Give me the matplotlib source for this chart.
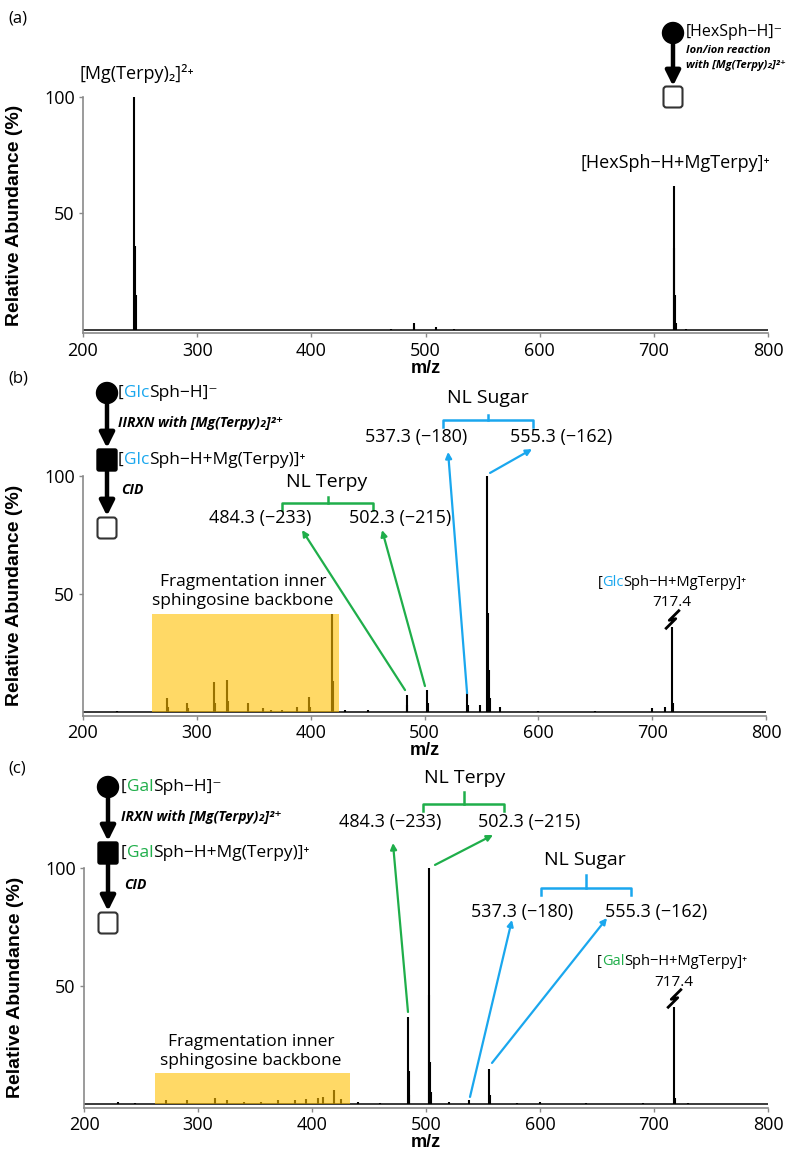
import matplotlib
matplotlib.use("Agg")
import matplotlib.pyplot as plt
from matplotlib.patches import Circle, Rectangle, FancyBboxPatch
from matplotlib.path import Path

FONT = ["Open Sans", "DejaVu Sans"]
LFONT = ["Liberation Sans", "DejaVu Sans"]
BLUE = "#1aa7ee"
GREEN = "#1fae4a"
ORANGE = "#ffc000"

# ---- spectra (m/z, relative abundance %) ----
mz_a = [245.0, 245.6, 246.2, 470.0, 489.5, 490.3, 509.5, 525.0,
        717.4, 718.0, 718.6, 719.5, 728.0]
int_a = [100, 36, 15, 0.6, 3.0, 1.5, 1.2, 0.5,
         62, 35, 15, 3, 0.6]

mz_b = [230.0, 273.8, 274.5, 291.4, 292.0, 315.0, 315.6, 326.5, 327.1, 345.0,
        358.0, 365.0, 375.0, 388.0, 398.5, 399.1, 418.7, 419.3, 430.0, 450.0,
        484.3, 484.9, 502.3, 502.9, 537.3, 537.9, 548.5, 555.3, 555.9, 556.5,
        557.2, 566.0, 600.0, 650.0, 700.0, 711.0, 717.4, 718.0]
int_b = [0.5, 6.0, 2.0, 4.0, 1.5, 12.7, 4.0, 13.5, 4.5, 4.0,
         1.5, 1.0, 1.0, 2.0, 6.5, 2.0, 41.5, 13.0, 0.8, 0.8,
         7.0, 3.0, 9.5, 4.0, 8.0, 3.0, 3.0, 100, 42, 18,
         6.0, 2.0, 0.5, 0.4, 1.5, 2.0, 36, 4.0]

mz_c = [230.0, 245.0, 272.0, 290.0, 315.0, 325.0, 340.0, 355.0, 370.0, 385.0,
        395.0, 405.0, 410.0, 419.0, 425.0, 440.0, 460.0, 484.3, 484.9, 485.5,
        502.3, 502.9, 503.5, 504.2, 520.0, 537.3, 555.3, 555.9, 580.0, 600.0,
        640.0, 690.0, 717.4, 718.0, 730.0]
int_c = [0.8, 0.6, 1.5, 1.5, 2.5, 1.5, 1.0, 1.0, 1.5, 1.5,
         2.0, 2.5, 3.0, 6.0, 2.0, 0.8, 0.6, 37, 14, 4,
         100, 46, 18, 5, 0.8, 1.5, 15, 4, 0.5, 0.8,
         0.6, 0.6, 41, 2.5, 0.5]

frag_b = (260.6, 425.0, 41.5)
frag_c = (262.0, 433.7, 13.0)

xticks = [200, 300, 400, 500, 600, 700, 800]
yticks = [50, 100]

W, H = 799, 1151
fig = plt.figure(figsize=(W / 100, H / 100), dpi=100)


def make_axes(x0, x1, y0, y100, ymin=-1.5):
    per = (y0 - y100) / 100.0
    bottom = y0 - ymin * per
    return fig.add_axes([x0 / W, 1 - bottom / H, (x1 - x0) / W, (bottom - y100) / H])


def style(ax):
    ax.set_xlim(200, 800)
    ax.set_ylim(-1.5, 100)
    for s in ("top", "right"):
        ax.spines[s].set_visible(False)
    for s in ("left", "bottom"):
        ax.spines[s].set_color("#8a8a8a")
        ax.spines[s].set_linewidth(1.2)
    ax.set_xticks(xticks)
    ax.set_yticks(yticks)
    ax.tick_params(direction="out", length=3, width=1, color="#8a8a8a", pad=3)
    for lab in ax.get_xticklabels() + ax.get_yticklabels():
        lab.set_family(FONT)
        lab.set_fontsize(13)
    ax.set_xlabel("m/z", family=LFONT, fontweight="bold", fontsize=13, labelpad=0)
    ax.set_ylabel("Relative Abundance (%)", family=LFONT, fontweight="bold", fontsize=14)
    ax.yaxis.set_label_coords(-0.088, 0.5)
    ax.patch.set_alpha(0)


def spectrum(ax, mz, inten):
    ax.hlines(0, 200, 800, color="#2a2a2a", lw=1.3)
    ax.vlines(mz, 0, inten, color="black", lw=1.5)


def bracket(ax, xl, xr, y, ytop, yend, color):
    xm = (xl + xr) / 2
    ax.plot([xl, xl, xr, xr], [yend, y, y, yend], color=color, lw=1.8, clip_on=False,
            solid_joinstyle="round")
    ax.plot([xm, xm], [y, ytop], color=color, lw=1.8, clip_on=False)


def arrow(ax, tail, head, color):
    ax.annotate("", xy=head, xytext=tail, annotation_clip=False,
                arrowprops=dict(arrowstyle="-|>", color=color, lw=1.6,
                                mutation_scale=9, shrinkA=0, shrinkB=0))


def label(ax, x, y, s, size=13, **kw):
    ax.text(x, y, s, ha="center", va="center", fontsize=size, family=FONT, **kw)


def rich(ax, x, y, parts, size, weight="normal", style_="normal"):
    t = None
    for s, c in parts:
        if t is None:
            t = ax.text(x, y, s, color=c, fontsize=size, fontweight=weight,
                        fontstyle=style_, family=FONT, ha="left", va="center")
        else:
            t = ax.annotate(s, xy=(1, 0), xycoords=t, color=c, fontsize=size,
                            fontweight=weight, fontstyle=style_, family=FONT,
                            ha="left", va="bottom")
    return t


# lightning-style axis break drawn above the off-scale precursor peak
bolt = Path([(-0.45, -0.6), (0.2, 0.05), (-0.2, -0.05), (0.45, 0.6)])


def breakmark(ax, x, y):
    ax.plot([x], [y], marker=bolt, ms=14, mfc="none", mec="black", mew=2.0,
            clip_on=False, ls="none")


# ---------------- panel (a) ----------------
ax_a = make_axes(83, 768, 330, 97)
style(ax_a)
spectrum(ax_a, mz_a, int_a)
label(ax_a, 247, 110, "[Mg(Terpy)\u2082]\u00b2\u207a", size=13)
label(ax_a, 719, 71.7, "[HexSph\u2212H+MgTerpy]\u207a", size=13)

# ---------------- panel (b) ----------------
ax_b = make_axes(83, 766, 712, 476)
style(ax_b)
spectrum(ax_b, mz_b, int_b)
ax_b.add_patch(Rectangle((frag_b[0], 0), frag_b[1] - frag_b[0], frag_b[2],
                         fc=ORANGE, alpha=0.6, ec="none", zorder=3))
ax_b.text(340.6, 51, "Fragmentation inner\nsphingosine backbone", ha="center",
          va="center", fontsize=12.5, family=FONT, linespacing=1.25)
label(ax_b, 414.4, 97.5, "NL Terpy", size=14)
bracket(ax_b, 374.8, 454.8, 88.6, 91.3, 85.6, GREEN)
label(ax_b, 355.5, 82.2, "484.3 (\u2212233)")
label(ax_b, 478.5, 82.2, "502.3 (\u2212215)")
arrow(ax_b, (482.9, 9.3), (392.4, 77.1), GREEN)
arrow(ax_b, (500.4, 11.0), (462.7, 77.1), GREEN)
label(ax_b, 555.8, 133, "NL Sugar", size=14)
bracket(ax_b, 516.3, 595.3, 123.7, 126.0, 120.8, BLUE)
label(ax_b, 492.5, 116.5, "537.3 (\u2212180)")
label(ax_b, 619.9, 116.5, "555.3 (\u2212162)")
arrow(ax_b, (537.4, 8.0), (520.7, 110.2), BLUE)
arrow(ax_b, (557.6, 101.3), (594.5, 111.4), BLUE)
rich(ax_b, 652, 54.7, [("[", "black"), ("Glc", BLUE), ("Sph\u2212H+MgTerpy]\u207a", "black")], 10.5)
label(ax_b, 717.4, 46.2, "717.4", size=11)
breakmark(ax_b, 717.4, 39.5)

# ---------------- panel (c) ----------------
ax_c = make_axes(84, 768, 1104, 868)
style(ax_c)
spectrum(ax_c, mz_c, int_c)
ax_c.add_patch(Rectangle((frag_c[0], 0), frag_c[1] - frag_c[0], frag_c[2],
                         fc=ORANGE, alpha=0.6, ec="none", zorder=3))
ax_c.text(346.5, 22.2, "Fragmentation inner\nsphingosine backbone", ha="center",
          va="center", fontsize=12.5, family=FONT, linespacing=1.25)
label(ax_c, 534.2, 138.1, "NL Terpy", size=14)
bracket(ax_c, 497.4, 568.4, 127.1, 132.2, 124.2, GREEN)
label(ax_c, 468.4, 119.5, "484.3 (\u2212233)")
label(ax_c, 590.4, 119.5, "502.3 (\u2212215)")
arrow(ax_c, (484.2, 39.0), (471.0, 110.6), GREEN)
arrow(ax_c, (507.9, 101.3), (558.8, 114.0), GREEN)
label(ax_c, 639.5, 103.4, "NL Sugar", size=14)
bracket(ax_c, 600.9, 679.8, 91.5, 97.0, 88.6, BLUE)
label(ax_c, 584.2, 81.4, "537.3 (\u2212180)")
label(ax_c, 701.8, 81.4, "555.3 (\u2212162)")
arrow(ax_c, (538.6, 3.0), (575.4, 78.0), BLUE)
arrow(ax_c, (557.9, 17.4), (658.8, 78.8), BLUE)
rich(ax_c, 650, 60.2, [("[", "black"), ("Gal", GREEN), ("Sph\u2212H+MgTerpy]\u207a", "black")], 10.5)
label(ax_c, 717.5, 51.3, "717.4", size=11)
breakmark(ax_c, 717.5, 45)

# ---------------- overlay: panel letters and flow diagrams (pixel coords) ----------------
ov = fig.add_axes([0, 0, 1, 1])
ov.set_xlim(0, W)
ov.set_ylim(H, 0)
ov.axis("off")
ov.patch.set_alpha(0)

for txt, yy in (("(a)", 18), ("(b)", 378), ("(c)", 768)):
    ov.text(8, yy, txt, fontsize=12, family=FONT, va="center", ha="left")


def down_arrow(x, y1, y2):
    ov.annotate("", xy=(x, y2), xytext=(x, y1),
                arrowprops=dict(arrowstyle="-|>", color="black", lw=3.2,
                                mutation_scale=22, shrinkA=0, shrinkB=0))


def open_box(x, y):
    ov.add_patch(FancyBboxPatch((x - 9.5, y - 10.5), 19, 21,
                                boxstyle="round,pad=0,rounding_size=3",
                                fc="white", ec="#333333", lw=1.5))


def filled_box(x, y):
    ov.add_patch(FancyBboxPatch((x - 10, y - 11), 20, 22,
                                boxstyle="round,pad=0,rounding_size=2",
                                fc="black", ec="black", lw=1))


# (a)
ov.add_patch(Circle((673, 33), 10.5, color="black"))
down_arrow(673, 40, 86)
open_box(673, 97)
rich(ov, 686, 32, [("[HexSph\u2212H]\u207b", "black")], 11.5)
rich(ov, 686, 50, [("Ion/ion reaction", "black")], 8, weight="bold", style_="italic")
rich(ov, 686, 65, [("with [Mg(Terpy)\u2082]\u00b2\u207a", "black")], 8, weight="bold", style_="italic")

# (b)
ov.add_patch(Circle((107, 393), 10.5, color="black"))
down_arrow(107, 400, 448)
filled_box(107, 460)
down_arrow(107, 470, 516)
open_box(107, 528)
rich(ov, 118, 393, [("[", "black"), ("Glc", BLUE), ("Sph\u2212H]\u207b", "black")], 12.5)
rich(ov, 118, 423, [("IIRXN with [Mg(Terpy)\u2082]\u00b2\u207a", "black")], 10, weight="bold", style_="italic")
rich(ov, 118, 460, [("[", "black"), ("Glc", BLUE), ("Sph\u2212H+Mg(Terpy)]\u207a", "black")], 12.5)
rich(ov, 121, 490, [("CID", "black")], 10, weight="bold", style_="italic")

# (c)
ov.add_patch(Circle((108, 787), 10.5, color="black"))
down_arrow(108, 794, 841)
filled_box(108, 853)
down_arrow(108, 863, 911)
open_box(108, 923)
rich(ov, 121, 787, [("[", "black"), ("Gal", GREEN), ("Sph\u2212H]\u207b", "black")], 12.5)
rich(ov, 121, 817, [("IRXN with [Mg(Terpy)\u2082]\u00b2\u207a", "black")], 10, weight="bold", style_="italic")
rich(ov, 121, 853, [("[", "black"), ("Gal", GREEN), ("Sph\u2212H+Mg(Terpy)]\u207a", "black")], 12.5)
rich(ov, 124, 885, [("CID", "black")], 10, weight="bold", style_="italic")

fig.savefig("out.png", dpi=100)
